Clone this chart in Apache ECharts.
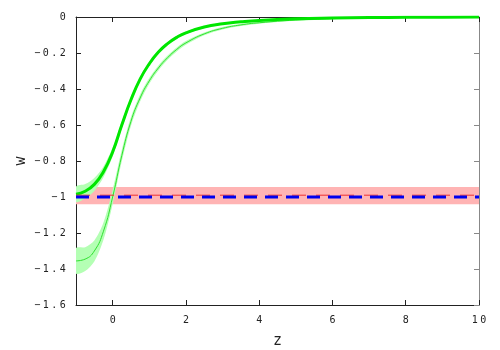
<!DOCTYPE html>
<html>
<head>
<meta charset="utf-8">
<script src="https://cdn.jsdelivr.net/npm/echarts@6/dist/echarts.min.js"></script>
<style>
  html, body { margin: 0; padding: 0; background: #fff; }
  #main { width: 500px; height: 350px; }
</style>
</head>
<body>
<div id="main"></div>
<script>
// redshift grid
var zs = [-1, -0.75, -0.5, -0.25, 0, 0.25, 0.5, 0.75, 1, 1.25, 1.5, 1.75, 2, 2.5, 3, 3.5, 4, 5, 6, 7, 8, 9, 10];

// thick curve + its band
var wThick  = [-0.985, -0.968, -0.93, -0.86, -0.75, -0.6, -0.46, -0.345, -0.26, -0.195, -0.148, -0.113, -0.088, -0.056, -0.038, -0.027, -0.019, -0.01, -0.0055, -0.003, -0.002, -0.001, -0.0005];
var thickHi = [-0.943, -0.928, -0.894, -0.83, -0.725, -0.58, -0.444, -0.332, -0.249, -0.185, -0.139, -0.105, -0.081, -0.05, -0.033, -0.023, -0.015, -0.007, -0.0025, -0.001, 0, 0, 0];
var thickLo = [-1.027, -1.008, -0.966, -0.89, -0.775, -0.62, -0.476, -0.358, -0.271, -0.205, -0.157, -0.121, -0.095, -0.062, -0.043, -0.031, -0.023, -0.013, -0.0085, -0.005, -0.004, -0.003, -0.0025];

// thin curve + its band
var wThin  = [-1.355, -1.345, -1.3, -1.19, -1.0, -0.77, -0.58, -0.45, -0.355, -0.283, -0.226, -0.18, -0.144, -0.094, -0.063, -0.044, -0.032, -0.017, -0.009, -0.005, -0.003, -0.0015, -0.001];
var thinHi = [-1.285, -1.279, -1.242, -1.142, -0.96, -0.738, -0.555, -0.43, -0.339, -0.269, -0.214, -0.169, -0.134, -0.086, -0.056, -0.038, -0.027, -0.013, -0.006, -0.002, -0.001, 0, 0];
var thinLo = [-1.425, -1.411, -1.358, -1.238, -1.04, -0.802, -0.605, -0.47, -0.371, -0.297, -0.238, -0.191, -0.154, -0.102, -0.07, -0.05, -0.037, -0.021, -0.012, -0.008, -0.005, -0.0035, -0.003];

// constant lines and band
var wLambda = -1;
var wFit = -0.99;
var fitLo = -1.04, fitHi = -0.945;

var xTicks = [0, 2, 4, 6, 8, 10];

function pairs(ys) { return zs.map(function (z, i) { return [z, ys[i]]; }); }
function spaced(s) {
  return s.split('').map(function (c) { return '{c|' + c + '}'; }).join('');
}

// band polygon: upper edge forward, lower edge back
function bandSeries(hi, lo) {
  return {
    type: 'custom', clip: true, z: 2, silent: true,
    data: [0],
    renderItem: function (params, api) {
      var pts = [];
      for (var i = 0; i < zs.length; i++) pts.push(api.coord([zs[i], hi[i]]));
      for (var j = zs.length - 1; j >= 0; j--) pts.push(api.coord([zs[j], lo[j]]));
      return {
        type: 'polygon',
        shape: { points: pts, smooth: 0.3 },
        style: { fill: '#b4ffb4', stroke: null }
      };
    }
  };
}

var labelRich = { c: { width: 8.5, align: 'center', fontFamily: 'DejaVu Sans Mono', fontSize: 10, color: '#222' } };
var lineCol = '#222';

var chart = echarts.init(document.getElementById('main'));

chart.setOption({
  animation: false,
  grid: { left: 76, right: 21, top: 17, bottom: 45, containLabel: false, outerBoundsMode: 'none' },
  xAxis: [{
    type: 'value', position: 'bottom', min: -1, max: 10,
    name: 'z', nameLocation: 'middle', nameGap: 29, nameMoveOverlap: false,
    nameTextStyle: { fontFamily: 'DejaVu Sans Mono', fontSize: 15, color: '#222' },
    axisLine: { onZero: false, lineStyle: { color: lineCol, width: 1 } },
    axisTick: { inside: true, length: 5, customValues: xTicks, lineStyle: { color: lineCol } },
    axisLabel: {
      customValues: xTicks, margin: 10,
      formatter: function (v) { return spaced(String(v)); },
      rich: labelRich
    },
    splitLine: { show: false }
  }, {
    type: 'value', position: 'top', min: -1, max: 10,
    axisLine: { onZero: false, lineStyle: { color: lineCol, width: 1 } },
    axisTick: { inside: true, length: 5, customValues: xTicks, lineStyle: { color: lineCol } },
    axisLabel: { show: false },
    splitLine: { show: false }
  }],
  yAxis: [{
    type: 'value', position: 'left', min: -1.6, max: 0, interval: 0.2,
    name: 'w', nameLocation: 'middle', nameGap: 47, nameRotate: 90, nameMoveOverlap: false,
    nameTextStyle: { fontFamily: 'DejaVu Sans Mono', fontSize: 15, color: '#222' },
    axisLine: { show: true, onZero: false, lineStyle: { color: lineCol, width: 1 } },
    axisTick: { show: true, inside: true, length: 5, lineStyle: { color: lineCol } },
    axisLabel: {
      margin: 9,
      formatter: function (v) {
        var s = String(Math.round(v * 10) / 10);
        return spaced(s.replace('-', '\u2212'));
      },
      rich: labelRich
    },
    splitLine: { show: false }
  }, {
    type: 'value', position: 'right', min: -1.6, max: 0, interval: 0.2,
    axisLine: { show: true, onZero: false, lineStyle: { color: '#888', width: 1 } },
    axisTick: { show: true, inside: true, length: 5, lineStyle: { color: '#888' } },
    axisLabel: { show: false },
    splitLine: { show: false }
  }],
  series: [
    bandSeries(thinHi, thinLo),
    bandSeries(thickHi, thickLo),
    // curves
    { type: 'line', data: pairs(wThin), smooth: 0.5, symbol: 'none',
      lineStyle: { color: '#2ee02e', width: 1 }, z: 3 },
    { type: 'line', data: pairs(wThick), smooth: 0.5, symbol: 'none',
      lineStyle: { color: '#00e600', width: 3 }, z: 3 },
    // fit line with pink band
    { type: 'line', data: [[-1, wFit], [10, wFit]], symbol: 'none',
      lineStyle: { color: '#ee3030', width: 1, type: [14, 10] }, z: 4,
      markArea: {
        silent: true,
        itemStyle: { color: '#ffb4b4', opacity: 1 },
        data: [[{ yAxis: fitLo }, { yAxis: fitHi }]]
      } },
    // w = -1
    { type: 'line', data: [[-1, wLambda], [10, wLambda]], symbol: 'none',
      lineStyle: { color: '#0000ee', width: 3, type: [13, 8] }, z: 5 }
  ]
});
</script>
</body>
</html>
